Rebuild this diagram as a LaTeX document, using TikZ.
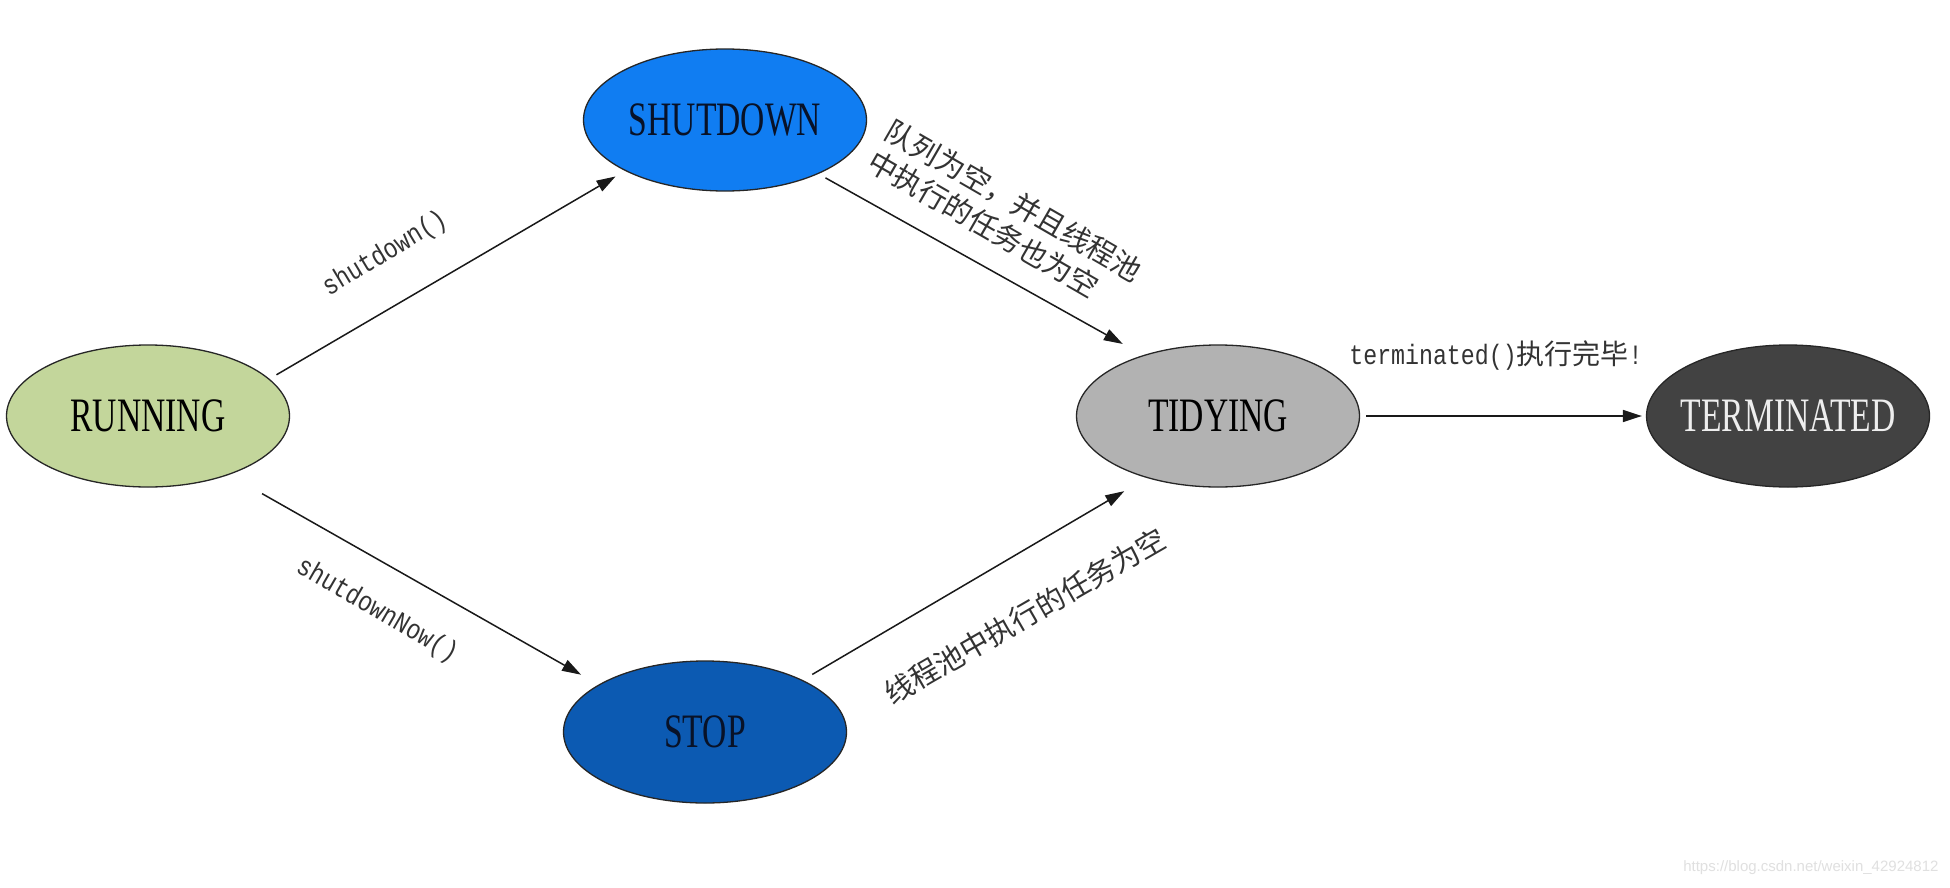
\documentclass[tikz,border=0pt]{standalone}
\usepackage{fontspec}
\setmainfont{Liberation Serif}
\newfontfamily\statefont[FakeStretch=0.7]{Liberation Serif}
\newfontfamily\monolab[FakeStretch=0.83]{Liberation Mono}
\newfontfamily\cjk{Noto Sans CJK SC}
\newfontfamily\wmfont{Liberation Sans}
\usetikzlibrary{shapes.geometric,arrows.meta}
\definecolor{runC}{RGB}{195,214,155}
\definecolor{shutC}{RGB}{16,125,242}
\definecolor{stopC}{RGB}{12,90,178}
\definecolor{tidyC}{RGB}{178,178,178}
\definecolor{termC}{RGB}{66,66,66}
\definecolor{darkT}{RGB}{8,18,40}
\definecolor{termT}{RGB}{238,238,238}
\begin{document}
\begin{tikzpicture}[x=1pt,y=-1pt,
  state/.style={ellipse, draw=black!85, line width=1.3pt, minimum width=283pt,
    minimum height=142pt, inner xsep=-40pt, inner ysep=0pt,
    font=\statefont\fontsize{48}{50}\selectfont},
  conn/.style={line width=1.5pt, draw=black!90, -{Triangle[length=19pt,width=12pt]}},
  lab/.style={font=\monolab\fontsize{28}{32}\selectfont, text=black!80, inner sep=0pt},
  cjklab/.style={font=\cjk\fontsize{29}{35.5}\selectfont, text=black!80, align=left, inner sep=0pt}]
\useasboundingbox (0,0) rectangle (1950,888);
\fill[white] (0,0) rectangle (1950,888);

\node[state, fill=runC, text=black] (run) at (148,416) {RUNNING};
\node[state, fill=shutC, text=darkT] (shut) at (725,120) {SHUTDOWN};
\node[state, fill=stopC, text=darkT] (stop) at (705,732) {STOP};
\node[state, fill=tidyC, text=black] (tidy) at (1218,416) {TIDYING};
\node[state, fill=termC, text=termT] (term) at (1788,416) {TERMINATED};

\draw[conn, shorten <=8pt, shorten >=11pt] (run.17) -- (shut.207);
\draw[conn, shorten <=8pt, shorten >=23pt] (shut.330) -- (tidy.141);
\draw[conn, shorten <=38pt, shorten >=20pt] (run.324) -- (stop.156);
\draw[conn, shorten <=11pt, shorten >=26pt] (stop.28) -- (tidy.221);
\draw[conn, shorten <=6pt, shorten >=4pt] (tidy.east) -- (term.west);

\node[lab, rotate=31] (l1) at (385,254) {shutdown()};
\node[lab, rotate=-30] (l2) at (377,611) {shutdownNow()};
\node[cjklab, rotate=-30] (l3) at (1005,216) {队列为空，并且线程池\\中执行的任务也为空};
\node[cjklab, rotate=30] (l4) at (1025,616) {线程池中执行的任务为空};
\node[lab] (l5) at (1496,356) {terminated(){\cjk 执行完毕}!};

\node[font=\wmfont\fontsize{15}{17}\selectfont, text=black!12, anchor=east] (wm) at (1942,868) {https://blog.csdn.net/weixin\_42924812};
\end{tikzpicture}
\end{document}
